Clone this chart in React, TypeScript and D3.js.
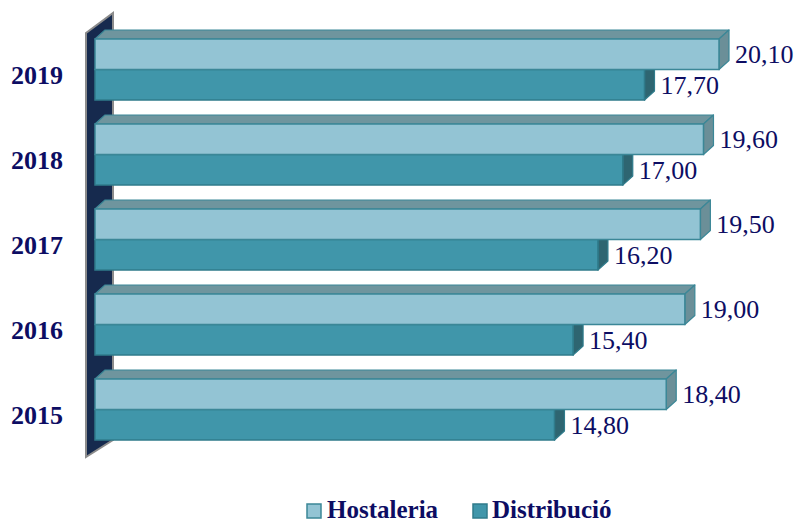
import React from "react";
import * as d3 from "d3";

const years = ["2019", "2018", "2017", "2016", "2015"];
const seriesNames = ["Hostaleria", "Distribució"];
const hostaleria = [20.1, 19.6, 19.5, 19.0, 18.4];
const distribucio = [17.7, 17.0, 16.2, 15.4, 14.8];

const W = 798;
const H = 524;
const DX = 10;
const DY = -9;
const FONT = "Liberation Serif";
const TEXT = "#0d0d63";

const styles = [
  { front: "#93c4d4", top: "#6f959e", side: "#6b8f98", stroke: "#3b8797" },
  { front: "#4096aa", top: "#5f8e97", side: "#2e6571", stroke: "#2f7b8b" },
];

const fmt = (v: number) => v.toFixed(2).replace(".", ",");

export default function App() {
  const x = d3.scaleLinear().domain([0, 20.1]).range([95, 719]);
  const y = d3.scaleBand<string>().domain(years).range([39, 440]).paddingInner(24 / 85).paddingOuter(0);
  const inner = d3.scaleBand<string>().domain(seriesNames).range([0, y.bandwidth()]);
  const x0 = x(0);
  const series = [hostaleria, distribucio];

  const wall = [
    [x0 - 9, 33],
    [x0 + 18, 13],
    [x0 + 18, 440],
    [x0 - 9, 457],
  ];
  const wallPath = d3.line()(wall as [number, number][]) + "Z";

  const bars: JSX.Element[] = [];
  years.forEach((yr, i) => {
    [1, 0].forEach((s) => {
      const v = series[s][i];
      const st = styles[s];
      const top = (y(yr) as number) + (inner(seriesNames[s]) as number);
      const h = inner.bandwidth();
      const xl = x0;
      const xr = x(v);
      const topFace = `M${xl},${top}L${xl + DX},${top + DY}L${xr + DX},${top + DY}L${xr},${top}Z`;
      const sideFace = `M${xr},${top}L${xr + DX},${top + DY}L${xr + DX},${top + h + DY}L${xr},${top + h}Z`;
      bars.push(
        <g key={yr + s}>
          <path d={topFace} fill={st.top} stroke={st.stroke} strokeWidth={1.2} strokeLinejoin="round" />
          <path d={sideFace} fill={st.side} stroke={st.stroke} strokeWidth={1.2} strokeLinejoin="round" />
          <rect x={xl} y={top} width={xr - xl} height={h} fill={st.front} stroke={st.stroke} strokeWidth={1.5} />
        </g>
      );
    });
  });

  const labels: JSX.Element[] = [];
  years.forEach((yr, i) => {
    seriesNames.forEach((name, s) => {
      const v = series[s][i];
      const top = (y(yr) as number) + (inner(name) as number);
      const cy = top + inner.bandwidth() / 2;
      labels.push(
        <text key={yr + name} x={x(v) + DX + 6} y={cy + 9} fontSize={26} fill={TEXT} fontFamily={FONT}>
          {fmt(v)}
        </text>
      );
    });
  });

  const legend = [
    { name: "Hostaleria", sx: 307, tx: 327 },
    { name: "Distribució", sx: 473, tx: 492 },
  ];

  return (
    <svg width={W} height={H} style={{ position: "absolute", left: 0, top: 0, background: "#fff" }}>
      <path d={wallPath} fill="#162a4e" stroke="#8c8c8c" strokeWidth={2} strokeLinejoin="miter" />
      {bars}
      {labels}
      {years.map((yr) => (
        <text
          key={yr}
          x={63}
          y={(y(yr) as number) + 45}
          textAnchor="end"
          fontSize={26}
          fontWeight="bold"
          fill={TEXT}
          fontFamily={FONT}
        >
          {yr}
        </text>
      ))}
      {legend.map((l, i) => (
        <g key={l.name}>
          <rect x={l.sx} y={504} width={14} height={14} fill={styles[i].front} stroke={styles[i].stroke} strokeWidth={1.5} />
          <text x={l.tx} y={518} fontSize={25} fontWeight="bold" fill={TEXT} fontFamily={FONT}>
            {l.name}
          </text>
        </g>
      ))}
    </svg>
  );
}
